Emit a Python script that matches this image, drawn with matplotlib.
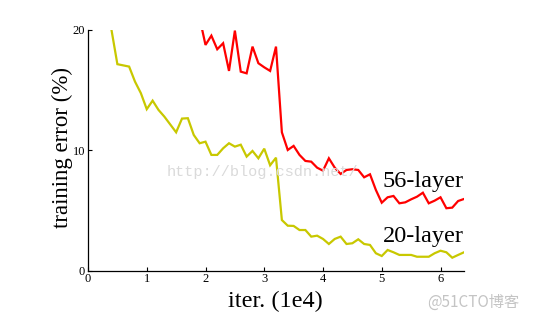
import matplotlib
matplotlib.use("Agg")
import matplotlib.pyplot as plt

# 20-layer training error (%)
iter20 = [0.4, 0.5, 0.6, 0.7, 0.8, 0.9, 1.0, 1.1, 1.2, 1.3, 1.4, 1.5, 1.6, 1.7, 1.8, 1.9,
          2.0, 2.1, 2.2, 2.3, 2.4, 2.5, 2.6, 2.7, 2.8, 2.9, 3.0, 3.1, 3.2, 3.3, 3.4, 3.5,
          3.6, 3.7, 3.8, 3.9, 4.0, 4.1, 4.2, 4.3, 4.4, 4.5, 4.6, 4.7, 4.8, 4.9, 5.0, 5.1,
          5.2, 5.3, 5.4, 5.5, 5.6, 5.7, 5.8, 5.9, 6.0, 6.1, 6.2, 6.3, 6.4]
err20 = [20.0, 17.16, 17.06, 16.96, 15.71, 14.75, 13.42, 14.13, 13.36, 12.80, 12.15, 11.50,
         12.64, 12.67, 11.28, 10.59, 10.72, 9.62, 9.62, 10.17, 10.59, 10.31, 10.47, 9.48,
         9.95, 9.34, 10.14, 8.76, 9.39, 4.21, 3.74, 3.72, 3.38, 3.38, 2.83, 2.91, 2.64,
         2.22, 2.64, 2.83, 2.22, 2.28, 2.61, 2.22, 2.14, 1.45, 1.22, 1.72, 1.53, 1.31,
         1.31, 1.31, 1.16, 1.16, 1.16, 1.45, 1.66, 1.53, 1.08, 1.31, 1.53]

# 56-layer training error (%)
iter56 = [1.9, 2.0, 2.1, 2.2, 2.3, 2.4, 2.5, 2.6, 2.7, 2.8, 2.9, 3.0, 3.1, 3.2, 3.3, 3.4,
          3.5, 3.6, 3.7, 3.8, 3.9, 4.0, 4.1, 4.2, 4.3, 4.4, 4.5, 4.6, 4.7, 4.8, 4.9, 5.0,
          5.1, 5.2, 5.3, 5.4, 5.5, 5.6, 5.7, 5.8, 5.9, 6.0, 6.1, 6.2, 6.3, 6.4]
err56 = [21.0, 18.76, 19.53, 18.40, 18.90, 16.60, 19.95, 16.54, 16.40, 18.62, 17.24, 16.90,
         16.60, 18.62, 11.50, 10.03, 10.37, 9.62, 9.12, 9.06, 8.56, 8.31, 9.34, 8.56, 8.04,
         8.37, 8.43, 8.37, 7.76, 8.01, 6.71, 5.65, 6.10, 6.21, 5.60, 5.68, 5.93, 6.15,
         6.48, 5.60, 5.82, 6.10, 5.19, 5.24, 5.79, 5.96]

xticks = [0, 1, 2, 3, 4, 5, 6]
yticks = [0, 10, 20]
labels = ["20-layer", "56-layer"]

serif = ["Liberation Serif", "DejaVu Serif"]

fig = plt.figure(figsize=(5.34, 3.20), dpi=100)
ax = fig.add_axes([88 / 534, 49.3 / 320, 376 / 534, 240.7 / 320])

ax.plot(iter20, err20, color="#c8c800", lw=1.6, clip_on=True, solid_joinstyle="miter")
ax.plot(iter56, err56, color="#ff0000", lw=1.6, clip_on=True, solid_joinstyle="miter")

ax.set_xlim(0, 6.4)
ax.set_ylim(0, 20)
ax.set_xticks(xticks)
ax.set_yticks(yticks)
ax.set_xticklabels([str(t) for t in xticks], family=serif, fontsize=9)
ax.set_yticklabels([str(t) for t in yticks], family=serif, fontsize=9)
ax.tick_params(direction="in", length=3, width=0.8, pad=2)
for s in ["top", "right"]:
    ax.spines[s].set_visible(False)
for s in ["left", "bottom"]:
    ax.spines[s].set_linewidth(0.9)

fig.text(275 / 534, 1 - 307 / 320, "iter. (1e4)", family=serif, fontsize=17.5,
         ha="center", va="baseline")
fig.text(62 / 534, 1 - 147 / 320, "training error (%)", family=serif, fontsize=16.5,
         ha="center", va="center", rotation=90)

ax.text(6.4, 6.96, labels[1], family=serif, fontsize=17.5, ha="right", va="baseline")
ax.text(6.4, 2.39, labels[0], family=serif, fontsize=17.5, ha="right", va="baseline")

# watermarks
fig.text(167 / 534, 1 - 176 / 320, "http://blog.csdn.net/", family=["Liberation Mono", "DejaVu Sans Mono"],
         fontsize=11, color="#dadada", ha="left", va="baseline")
fig.text(427 / 534, 1 - 307 / 320, "@51CTO博客", family=["Noto Sans CJK SC", "DejaVu Sans"],
         fontsize=11, color="#c4c4c4", ha="left", va="baseline")

fig.savefig("out.png", dpi=100)
